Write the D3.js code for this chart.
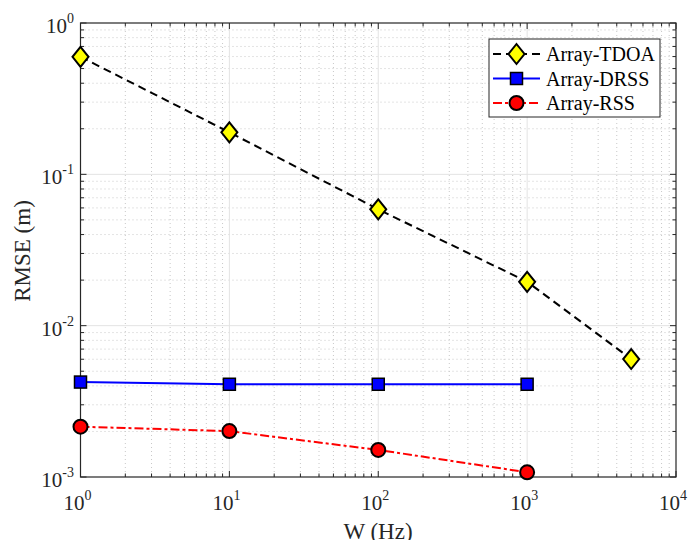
<!DOCTYPE html>
<meta charset="utf-8">
<html>
<body style="margin:0;background:#fff">
<div id="chartContainer"></div>
<script src="https://d3js.org/d3.v7.min.js"></script>
<script>
// RMSE vs bandwidth, log-log, MATLAB look
var wTdoa = [1, 10, 100, 1000, 5000];
var rmseTdoa = [0.598, 0.1895, 0.0587, 0.0195, 0.00602];
var wDrss = [1, 10, 100, 1000];
var rmseDrss = [0.00424, 0.0041, 0.0041, 0.0041];
var wRss = [1, 10, 100, 1000];
var rmseRss = [0.00215, 0.00201, 0.00151, 0.001074];
var seriesNames = ["Array-TDOA", "Array-DRSS", "Array-RSS"];
var xDecades = [0, 1, 2, 3, 4];
var yDecades = [0, -1, -2, -3];

var W = 690, H = 540;
var pLeft = 80.5, pRight = 676, pTop = 23, pBottom = 477;
var font = "'Liberation Serif', 'Times New Roman', serif";
var axisCol = "#262626";

var svg = d3.select("#chartContainer").append("svg")
  .attr("width", W).attr("height", H)
  .style("font-family", font);

var x = d3.scaleLog().domain([1, 1e4]).range([pLeft, pRight]);
var y = d3.scaleLog().domain([1e-3, 1]).range([pBottom, pTop]);

// minor values
var xMinor = [], yMinor = [];
for (var e = 0; e < 4; e++) for (var k = 2; k < 10; k++) xMinor.push(k * Math.pow(10, e));
for (var e = -3; e < 0; e++) for (var k = 2; k < 10; k++) yMinor.push(k * Math.pow(10, e));

var grid = svg.append("g");
grid.selectAll(".xm").data(xMinor).enter().append("line")
  .attr("x1", d => x(d)).attr("x2", d => x(d)).attr("y1", pTop).attr("y2", pBottom)
  .attr("stroke", "#c8c8c8").attr("stroke-width", 1).attr("stroke-dasharray", "1,3");
grid.selectAll(".ym").data(yMinor).enter().append("line")
  .attr("y1", d => y(d)).attr("y2", d => y(d)).attr("x1", pLeft).attr("x2", pRight)
  .attr("stroke", "#c8c8c8").attr("stroke-width", 1).attr("stroke-dasharray", "1,3");
grid.selectAll(".xM").data(xDecades.slice(1, 4)).enter().append("line")
  .attr("x1", d => x(Math.pow(10, d))).attr("x2", d => x(Math.pow(10, d)))
  .attr("y1", pTop).attr("y2", pBottom).attr("stroke", "#e3e3e3").attr("stroke-width", 1);
grid.selectAll(".yM").data(yDecades.slice(1, 3)).enter().append("line")
  .attr("y1", d => y(Math.pow(10, d))).attr("y2", d => y(Math.pow(10, d)))
  .attr("x1", pLeft).attr("x2", pRight).attr("stroke", "#e3e3e3").attr("stroke-width", 1);

// ticks on all four sides, pointing inward
var ticks = svg.append("g").attr("stroke", axisCol).attr("stroke-width", 1);
xMinor.forEach(function (d) {
  ticks.append("line").attr("x1", x(d)).attr("x2", x(d)).attr("y1", pBottom).attr("y2", pBottom - 3.5);
  ticks.append("line").attr("x1", x(d)).attr("x2", x(d)).attr("y1", pTop).attr("y2", pTop + 3.5);
});
xDecades.forEach(function (d) {
  var v = x(Math.pow(10, d));
  ticks.append("line").attr("x1", v).attr("x2", v).attr("y1", pBottom).attr("y2", pBottom - 6);
  ticks.append("line").attr("x1", v).attr("x2", v).attr("y1", pTop).attr("y2", pTop + 6);
});
yMinor.forEach(function (d) {
  ticks.append("line").attr("y1", y(d)).attr("y2", y(d)).attr("x1", pLeft).attr("x2", pLeft + 3.5);
  ticks.append("line").attr("y1", y(d)).attr("y2", y(d)).attr("x1", pRight).attr("x2", pRight - 3.5);
});
yDecades.forEach(function (d) {
  var v = y(Math.pow(10, d));
  ticks.append("line").attr("y1", v).attr("y2", v).attr("x1", pLeft).attr("x2", pLeft + 6);
  ticks.append("line").attr("y1", v).attr("y2", v).attr("x1", pRight).attr("x2", pRight - 6);
});

svg.append("rect").attr("x", pLeft).attr("y", pTop)
  .attr("width", pRight - pLeft).attr("height", pBottom - pTop)
  .attr("fill", "none").attr("stroke", axisCol).attr("stroke-width", 1.2);

// tick labels
xDecades.forEach(function (d) {
  var t = svg.append("text").attr("x", x(Math.pow(10, d)) - 3).attr("y", 510)
    .attr("text-anchor", "middle").attr("fill", axisCol).style("font-size", "21px");
  t.append("tspan").text("10");
  t.append("tspan").attr("dy", -10).style("font-size", "14px").text(d);
});
yDecades.forEach(function (d) {
  var t = svg.append("text").attr("x", 74).attr("y", y(Math.pow(10, d)) + 10)
    .attr("text-anchor", "end").attr("fill", axisCol).style("font-size", "21px");
  t.append("tspan").text("10");
  t.append("tspan").attr("dy", -10).style("font-size", "14px").text(d);
});

svg.append("text").attr("x", 378).attr("y", 539).attr("text-anchor", "middle")
  .attr("fill", axisCol).style("font-size", "23px").text("W (Hz)");
svg.append("text").attr("transform", "translate(30,251) rotate(-90)")
  .attr("text-anchor", "middle").attr("fill", axisCol).style("font-size", "23px").text("RMSE (m)");

// series
var line = d3.line().x(d => x(d[0])).y(d => y(d[1]));
var styles = [
  { color: "#000", dash: "8,5", marker: "diamond", fill: "#ffff00" },
  { color: "#0000ff", dash: null, marker: "square", fill: "#0000ff" },
  { color: "#ff0000", dash: "9,3,3,3", marker: "circle", fill: "#ff0000" }
];
var seriesData = [d3.zip(wTdoa, rmseTdoa), d3.zip(wDrss, rmseDrss), d3.zip(wRss, rmseRss)];

function drawMarker(g, kind, fill, cx, cy) {
  if (kind === "diamond") {
    g.append("path").attr("d", "M" + cx + "," + (cy - 10) + "L" + (cx + 8) + "," + cy +
      "L" + cx + "," + (cy + 10) + "L" + (cx - 8) + "," + cy + "Z")
      .attr("fill", fill).attr("stroke", "#000").attr("stroke-width", 2);
  } else if (kind === "square") {
    g.append("rect").attr("x", cx - 6).attr("y", cy - 6).attr("width", 12).attr("height", 12)
      .attr("fill", fill).attr("stroke", "#000").attr("stroke-width", 1.5);
  } else {
    g.append("circle").attr("cx", cx).attr("cy", cy).attr("r", 7)
      .attr("fill", fill).attr("stroke", "#000").attr("stroke-width", 2);
  }
}

var plot = svg.append("g");
seriesData.forEach(function (data, i) {
  var s = styles[i];
  plot.append("path").datum(data).attr("d", line).attr("fill", "none")
    .attr("stroke", s.color).attr("stroke-width", 2)
    .attr("stroke-dasharray", s.dash);
});
seriesData.forEach(function (data, i) {
  var s = styles[i];
  data.forEach(function (d) { drawMarker(plot, s.marker, s.fill, x(d[0]), y(d[1])); });
});

// legend
var lg = svg.append("g");
lg.append("rect").attr("x", 489).attr("y", 39).attr("width", 171).attr("height", 78)
  .attr("fill", "#fff").attr("stroke", axisCol).attr("stroke-width", 1);
seriesNames.forEach(function (name, i) {
  var s = styles[i], ly = 54 + i * 24.5;
  lg.append("line").attr("x1", 493).attr("x2", 540).attr("y1", ly).attr("y2", ly)
    .attr("stroke", s.color).attr("stroke-width", 2).attr("stroke-dasharray", s.dash);
  drawMarker(lg, s.marker, s.fill, 516.5, ly);
  lg.append("text").attr("x", 546).attr("y", ly + 7).attr("fill", "#000")
    .style("font-size", "20px").text(name);
});
</script>
</body>
</html>
